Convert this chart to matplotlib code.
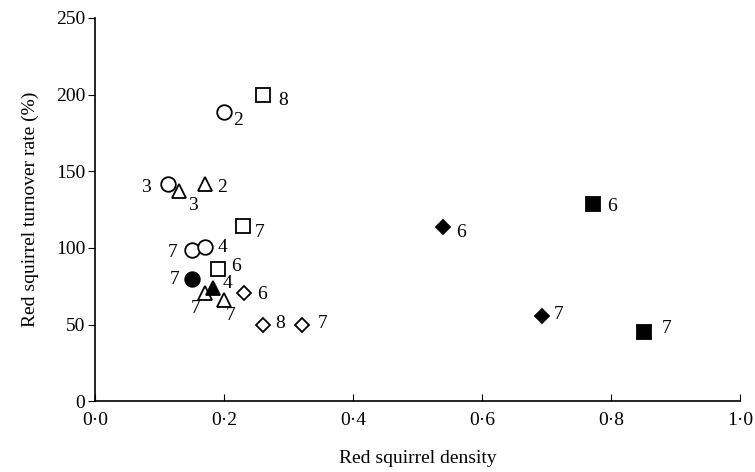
import matplotlib
matplotlib.use("Agg")
import matplotlib.pyplot as plt
from matplotlib.ticker import FuncFormatter

plt.rcParams['font.family'] = ['Liberation Serif', 'DejaVu Serif']

# density, turnover (%), label number for each symbol group
open_circle_x = [0.113, 0.200, 0.151, 0.171]
open_circle_y = [142, 188.5, 98.5, 100.5]
open_circle_lab = ['3', '2', '7', '4']

filled_circle_x = [0.151]
filled_circle_y = [79.5]
filled_circle_lab = ['7']

open_tri_x = [0.171, 0.130, 0.171, 0.200]
open_tri_y = [142, 137, 70.5, 66]
open_tri_lab = ['2', '3', '7', '7']

filled_tri_x = [0.183]
filled_tri_y = [74]
filled_tri_lab = ['4']

open_sq_x = [0.261, 0.230, 0.190]
open_sq_y = [200, 114.5, 86]
open_sq_lab = ['8', '7', '6']

filled_sq_x = [0.772, 0.852]
filled_sq_y = [128.5, 45]
filled_sq_lab = ['6', '7']

open_dia_x = [0.231, 0.261, 0.321]
open_dia_y = [70.5, 49.5, 49.5]
open_dia_lab = ['6', '8', '7']

filled_dia_x = [0.540, 0.693]
filled_dia_y = [113.5, 55.5]
filled_dia_lab = ['6', '7']

x_ticks = [0.0, 0.2, 0.4, 0.6, 0.8, 1.0]
y_ticks = [0, 50, 100, 150, 200, 250]

# label offsets in points (dx, dy), one per point
open_circle_off = [(-16, -3), (10, -6), (-14, -2), (12, 0)]
filled_circle_off = [(-13, 0)]
open_tri_off = [(12, -3), (10, -10), (-7, -11), (5, -11)]
filled_tri_off = [(10, 3)]
open_sq_off = [(14, -4), (12, -5), (13, 2)]
filled_sq_off = [(14, -2), (16, 3)]
open_dia_off = [(13, -1), (12, 1), (15, 1)]
filled_dia_off = [(13, -4), (12, 1)]

groups = [
    (open_circle_x, open_circle_y, open_circle_lab, open_circle_off, 'o', 'white', 10.5),
    (filled_circle_x, filled_circle_y, filled_circle_lab, filled_circle_off, 'o', 'black', 10.5),
    (open_tri_x, open_tri_y, open_tri_lab, open_tri_off, '^', 'white', 10.5),
    (filled_tri_x, filled_tri_y, filled_tri_lab, filled_tri_off, '^', 'black', 10.5),
    (open_sq_x, open_sq_y, open_sq_lab, open_sq_off, 's', 'white', 10),
    (filled_sq_x, filled_sq_y, filled_sq_lab, filled_sq_off, 's', 'black', 10.5),
    (open_dia_x, open_dia_y, open_dia_lab, open_dia_off, 'D', 'white', 7),
    (filled_dia_x, filled_dia_y, filled_dia_lab, filled_dia_off, 'D', 'black', 7.5),
]

fig = plt.figure(figsize=(7.55, 4.72), dpi=100)
ax = fig.add_axes([0.126, 0.150, 0.854, 0.812])

for xs, ys, labs, offs, mk, fc, ms in groups:
    ax.plot(xs, ys, linestyle='none', marker=mk, markersize=ms,
            markerfacecolor=fc, markeredgecolor='black', markeredgewidth=1.3,
            clip_on=False)
    for x, y, lab, off in zip(xs, ys, labs, offs):
        ax.annotate(lab, (x, y), xytext=off, textcoords='offset points',
                    ha='center', va='center', fontsize=14)

ax.set_xlim(0, 1.0)
ax.set_ylim(0, 250)
ax.set_xticks(x_ticks)
ax.set_yticks(y_ticks)
ax.xaxis.set_major_formatter(FuncFormatter(lambda v, p: ('%.1f' % v).replace('.', '\u00b7')))
ax.tick_params(axis='x', direction='in', length=5, labelsize=14, pad=8)
ax.tick_params(axis='y', direction='out', length=5, labelsize=14, pad=2)

ax.spines['top'].set_visible(False)
ax.spines['right'].set_visible(False)
for s in ['left', 'bottom']:
    ax.spines[s].set_linewidth(1.2)

ax.set_xlabel('Red squirrel density', fontsize=14, labelpad=15)
ax.set_ylabel('Red squirrel turnover rate (%)', fontsize=14, labelpad=12)

plt.savefig('out.png', dpi=100)
